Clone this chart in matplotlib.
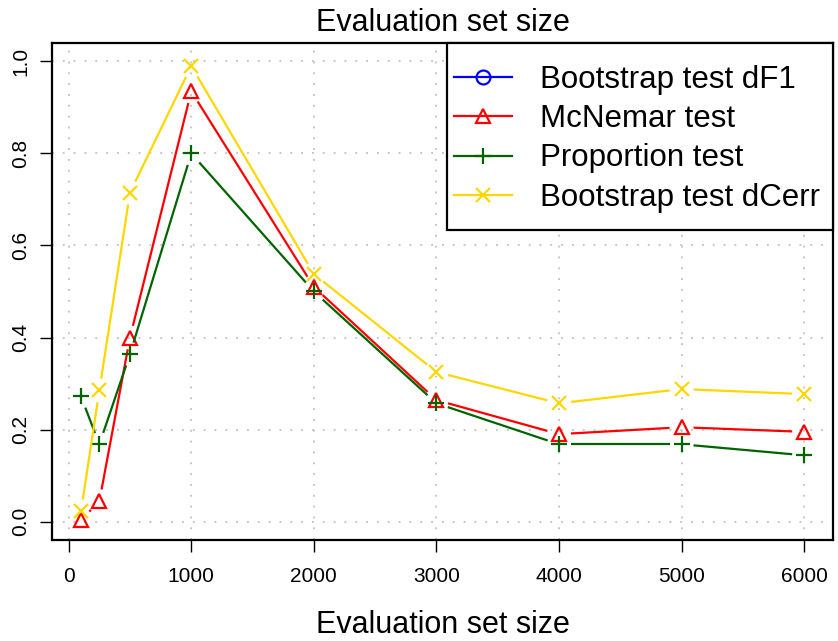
import numpy as np
import matplotlib
matplotlib.use("Agg")
import matplotlib.pyplot as plt
from matplotlib.lines import Line2D
from matplotlib.patches import Rectangle

plt.rcParams['font.family'] = ['Liberation Sans', 'DejaVu Sans']

eval_sizes = [100, 250, 500, 1000, 2000, 3000, 4000, 5000, 6000]
mcnemar = [0.003, 0.044, 0.40, 0.935, 0.51, 0.264, 0.19, 0.205, 0.195]
proportion = [0.272, 0.168, 0.364, 0.80, 0.50, 0.257, 0.168, 0.168, 0.144]
bootstrap_dcerr = [0.022, 0.285, 0.715, 0.99, 0.538, 0.325, 0.257, 0.288, 0.277]

x_ticks = [0, 1000, 2000, 3000, 4000, 5000, 6000]
y_ticks = [0.0, 0.2, 0.4, 0.6, 0.8, 1.0]

series = [
    ("Bootstrap test dF1", None, "blue", "o"),
    ("McNemar test", mcnemar, "red", "^"),
    ("Proportion test", proportion, "#006400", "+"),
    ("Bootstrap test dCerr", bootstrap_dcerr, "#FFD700", "x"),
]
marker_sizes = {"o": 10, "^": 10, "+": 12, "x": 9.5}

fig = plt.figure(figsize=(8.38, 6.41), dpi=100)
ax = fig.add_axes([0.0621, 0.1576, 0.932, 0.7753])

xr = max(eval_sizes) - min(eval_sizes)
ax.set_xlim(min(eval_sizes) - 0.04 * xr, max(eval_sizes) + 0.04 * xr)
ax.set_ylim(-0.04, 1.04)
ax.set_xticks(x_ticks)
ax.set_yticks(y_ticks)
ax.set_xticklabels([str(t) for t in x_ticks], fontsize=15)
ax.set_yticklabels([f"{t:.1f}" for t in y_ticks], fontsize=15, rotation=90, va='center')
ax.tick_params(axis='both', direction='out', length=8.6, width=1.0, colors='black')
ax.tick_params(axis='x', pad=11)
ax.tick_params(axis='y', pad=7)
for s in ax.spines.values():
    s.set_linewidth(1.6)

ax.grid(True, color='#c0c0c0', linestyle=(0, (1, 5)), linewidth=1.3)
ax.set_axisbelow(True)

ax.set_title("Evaluation set size", fontsize=22, pad=9)
ax.set_xlabel("Evaluation set size", fontsize=22, labelpad=17)

fig.canvas.draw()
gap = 12.0  # pixels left open around each point
inv = ax.transData.inverted()
handles = []
for label, vals, color, marker in series:
    ms = marker_sizes[marker]
    mew = 1.6
    mfc = 'none'
    if vals is not None:
        pts = ax.transData.transform(np.column_stack([eval_sizes, vals]))
        for p0, p1 in zip(pts[:-1], pts[1:]):
            d = p1 - p0
            L = np.hypot(*d)
            if L <= 2 * gap:
                continue
            u = d / L
            a = inv.transform(p0 + u * gap)
            b = inv.transform(p1 - u * gap)
            ax.plot([a[0], b[0]], [a[1], b[1]], color=color, lw=1.6,
                    solid_capstyle='butt')
        ax.plot(eval_sizes, vals, linestyle='none', marker=marker, ms=ms,
                mec=color, mfc=mfc, mew=mew)
    handles.append(Line2D([], [], color=color, lw=1.6, marker=marker,
                          ms=ms, mec=color, mfc=mfc, mew=mew, label=label))

# legend box: white panel with black border in the upper-right corner
ax.add_patch(Rectangle((0.5058, 0.6237), 0.4942, 0.3763, transform=ax.transAxes,
                       facecolor='white', edgecolor='black', linewidth=1.6,
                       zorder=4.5, clip_on=False))
leg = ax.legend(handles=handles, loc='upper left', bbox_to_anchor=(0.515, 0.955),
                fontsize=22.5, frameon=False, borderaxespad=0, borderpad=0,
                handlelength=1.85, handletextpad=0.88, labelspacing=0.29)
leg.set_zorder(5)

fig.savefig("out.png", dpi=100)
